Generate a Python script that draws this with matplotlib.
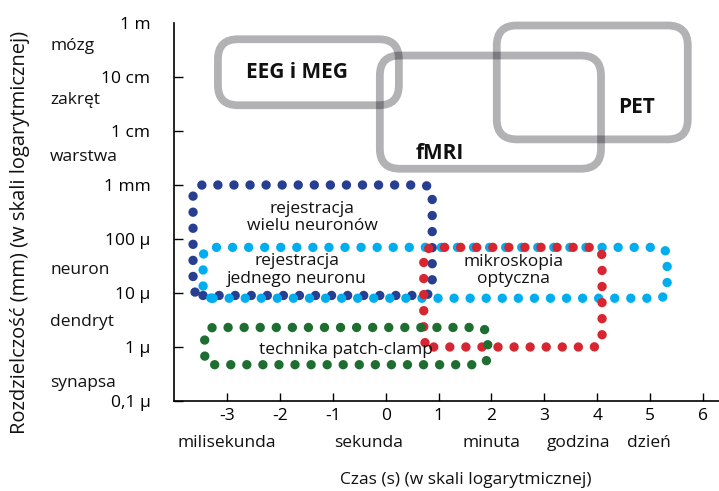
import matplotlib
matplotlib.use("Agg")
import matplotlib.pyplot as plt
from matplotlib.patches import FancyBboxPatch
from matplotlib.transforms import IdentityTransform, blended_transform_factory

plt.rcParams['font.family'] = ['Open Sans', 'DejaVu Sans']
plt.rcParams['font.size'] = 12.5
plt.rcParams['text.color'] = '#111111'

# os Y w metrach (skala log), os X = log10(czas w s)
y_ticks = [1, 1e-1, 1e-2, 1e-3, 1e-4, 1e-5, 1e-6, 1e-7]
y_labels = ["1 m", "10 cm", "1 cm", "1 mm", "100 µ", "10 µ", "1 µ", "0,1 µ"]
x_ticks = [-3, -2, -1, 0, 1, 2, 3, 4, 5, 6]

struct_names = ["mózg", "zakręt", "warstwa", "neuron", "dendryt", "synapsa"]
struct_y = [0.37, 0.037, 0.0033, 2.7e-5, 2.9e-6, 2.2e-7]

time_names = ["milisekunda", "sekunda", "minuta", "godzina", "dzień"]
time_x = [-3.0, -0.33, 1.99, 3.64, 4.98]

# metody obrazowania (szare ramki)
gray_names = ["EEG i MEG", "fMRI", "PET"]
gray_x0 = [-3.17, -0.11, 2.10]
gray_x1 = [0.25, 4.07, 5.71]
gray_y0 = [0.03, 0.002, 0.007]
gray_y1 = [0.5, 0.25, 0.9]
gray_tx = [-1.68, 1.03, 4.75]
gray_ty = [0.12, 0.0039, 0.027]

# metody kropkowane
dot_names = ["rejestracja\nwielu neuronów", "rejestracja\njednego neuronu",
             "mikroskopia\noptyczna", "technika patch-clamp"]
dot_colors = ["#263f91", "#00aeef", "#d7262f", "#1e6e32"]
dot_x0 = [-3.64, -3.45, 0.72, -3.42]
dot_x1 = [0.88, 5.32, 4.09, 1.93]
dot_y0 = [9e-6, 8e-6, 1e-6, 4.7e-7]
dot_y1 = [1e-3, 7e-5, 7e-5, 2.3e-6]
dot_tx = [-1.39, -1.68, 2.41, -0.75]
dot_ty = [2.5e-4, 2.7e-5, 2.6e-5, 8.7e-7]

fig = plt.figure(figsize=(7.19, 4.91), dpi=100)
ax = fig.add_axes([174/719, 1-401/491, 545/719, 378/491])
ax.set_yscale('log')
ax.set_xlim(-4.0, 6.3)
ax.set_ylim(1e-7, 1)
ax.spines['top'].set_visible(False)
ax.spines['right'].set_visible(False)
for s in ['left', 'bottom']:
    ax.spines[s].set_linewidth(1.2)

ax.set_xticks(x_ticks)
ax.set_xticklabels([str(v) for v in x_ticks])
ax.set_yticks(y_ticks)
ax.set_yticklabels(y_labels)
ax.yaxis.set_minor_locator(matplotlib.ticker.NullLocator())
ax.tick_params(axis='x', direction='in', length=6, width=1, pad=5)
ax.tick_params(axis='y', direction='in', length=6.5, width=1, pad=17)
for t in ax.yaxis.get_major_ticks():
    if t.get_loc() >= 1:
        t.tick1line.set_visible(False)


def rounded_box(x0, x1, y0, y1, radius, **kw):
    (px0, py0), (px1, py1) = ax.transData.transform([(x0, y0), (x1, y1)])
    box = FancyBboxPatch((min(px0, px1), min(py0, py1)), abs(px1 - px0), abs(py1 - py0),
                         boxstyle=f"round,pad=0,rounding_size={radius}",
                         transform=IdentityTransform(), fill=False, clip_on=False, **kw)
    ax.add_artist(box)
    return box


for i in range(len(gray_names)):
    rounded_box(gray_x0[i], gray_x1[i], gray_y0[i], gray_y1[i], 20,
                edgecolor='#000008', alpha=0.3, linewidth=5.6)
    ax.text(gray_tx[i], gray_ty[i], gray_names[i], fontsize=15, fontweight='bold',
            ha='center', va='center')

for i in range(len(dot_names)):
    b = rounded_box(dot_x0[i], dot_x1[i], dot_y0[i], dot_y1[i], 10,
                    edgecolor=dot_colors[i], linewidth=6.8, linestyle=(0, (0.001, 1.7)))
    b.set_capstyle('round')
    ax.text(dot_tx[i], dot_ty[i], dot_names[i], ha='center', va='center', linespacing=1.15)

tr = blended_transform_factory(fig.transFigure, ax.transData)
for name, yv in zip(struct_names, struct_y):
    ax.text(50/719, yv, name, transform=tr, ha='left', va='center')

tr2 = blended_transform_factory(ax.transData, ax.transAxes)
for name, xv in zip(time_names, time_x):
    ax.text(xv, -0.112, name, transform=tr2, ha='center', va='center')

ax.text(1.52, -0.21, "Czas (s) (w skali logarytmicznej)", transform=tr2,
        ha='center', va='center')
fig.text(20/719, 1-232/491, "Rozdzielczość (mm) (w skali logarytmicznej)",
         rotation=90, ha='center', va='center', fontsize=14.5)

fig.savefig("out.png", dpi=100)
